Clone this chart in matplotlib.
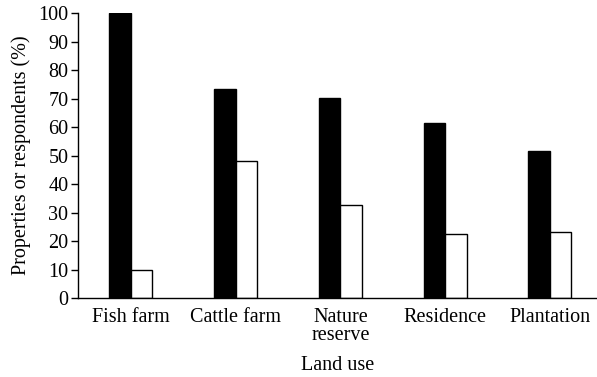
import matplotlib
matplotlib.use('Agg')
import matplotlib.pyplot as plt
import numpy as np

# land use categories and the two series (%)
categories = ['Fish farm', 'Cattle farm', 'Nature\nreserve', 'Residence', 'Plantation']
properties = [100, 73.3, 70.1, 61.4, 51.8]
respondents = [10, 48.2, 32.5, 22.6, 23.3]
yticks = [0, 10, 20, 30, 40, 50, 60, 70, 80, 90, 100]

plt.rcParams['font.family'] = ['Liberation Serif', 'DejaVu Serif']
fs = 14.5

fig = plt.figure(figsize=(5.97, 3.77), dpi=100)
ax = fig.add_axes([0.1307, 0.2095, 0.8693, 0.7552])

x = np.arange(len(categories))
w = 0.205
ax.bar(x - w / 2, properties, w, color='black', edgecolor='black', linewidth=1)
ax.bar(x + w / 2, respondents, w, color='white', edgecolor='black', linewidth=1)

ax.set_xlim(-0.505, 4.45)
ax.set_ylim(0, 100)
ax.set_yticks(yticks)
ax.set_xticks(x)
ax.set_xticklabels(categories, linespacing=0.92)
ax.tick_params(axis='x', length=0, pad=7, labelsize=fs)
ax.tick_params(axis='y', length=5, width=1, direction='out', pad=2, labelsize=fs)

ax.spines['top'].set_visible(False)
ax.spines['right'].set_visible(False)
ax.spines['left'].set_linewidth(1)
ax.spines['bottom'].set_linewidth(1)

ax.set_ylabel('Properties or respondents (%)', fontsize=fs, labelpad=5)
ax.set_xlabel('Land use', fontsize=fs, labelpad=8)

fig.savefig('out.png', dpi=100)
